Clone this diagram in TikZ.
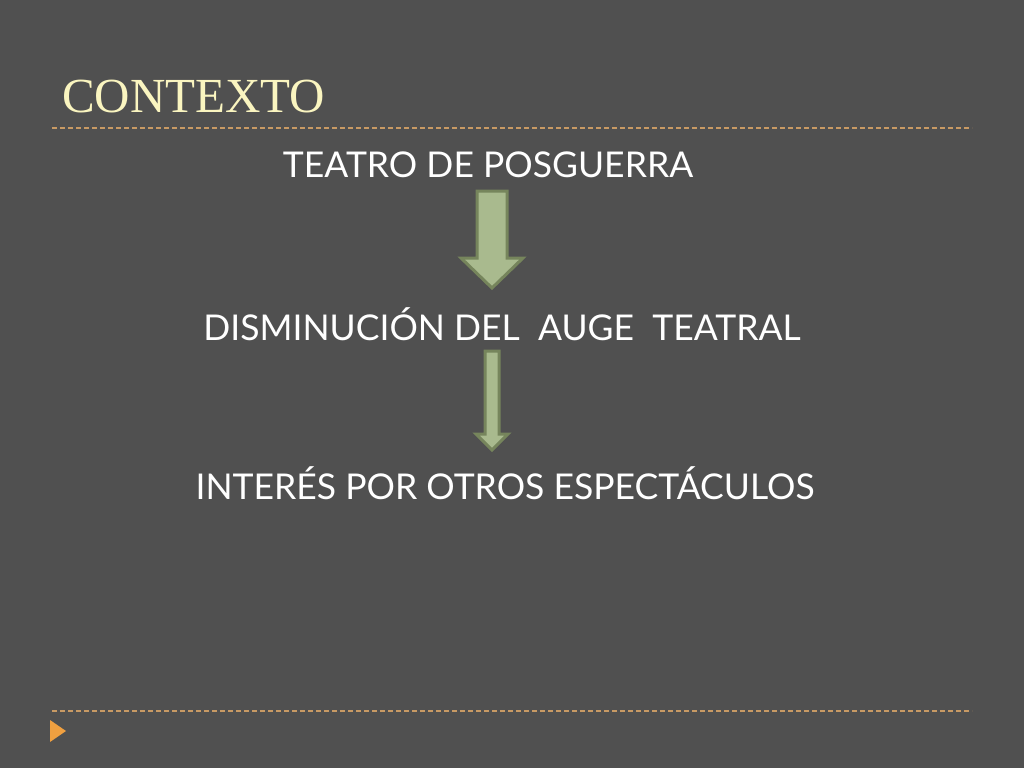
\documentclass[tikz,border=0pt]{standalone}
\usepackage{fontspec}
\newfontfamily\bodyfont{Lato}
\newfontfamily\titlefont{Liberation Serif}
\definecolor{slidebg}{HTML}{505050}
\definecolor{titlecol}{HTML}{FAF5C0}
\definecolor{rulecol}{HTML}{C89A64}
\definecolor{bulletcol}{HTML}{F0A040}
\definecolor{arrowfill}{HTML}{A9BA8E}
\definecolor{arrowline}{HTML}{76855C}
\tikzset{
	caption/.style={text=white, font=\bodyfont\fontsize{35.5}{42}\selectfont, inner sep=0pt},
	slidetitle/.style={text=titlecol, font=\titlefont\fontsize{49}{56}\selectfont, inner sep=0pt, anchor=base west},
	rule/.style={rulecol, line width=1.2pt, dash pattern=on 5pt off 3pt},
	blockarrow/.style={fill=arrowfill, draw=arrowline, line width=3pt, line join=miter}
}
\begin{document}
\begin{tikzpicture}[x=1pt,y=-1pt]
	\fill[slidebg] (0,0) rectangle (1024,768);
	\node[slidetitle] (title) at (62,112) {CONTEXTO};
	\draw[rule] (52,128) -- (972,128);
	\draw[rule] (52,711) -- (972,711);
	\fill[bulletcol] (50,720) -- (66,731) -- (50,742) -- cycle;
	\node[caption] (teatro) at (488,165) {TEATRO DE POSGUERRA};
	\node[caption] (auge) at (502,324) {DISMINUCIÓN DEL\ \ AUGE\ \ TEATRAL};
	\node[caption] (interes) at (505,483) {INTERÉS POR OTROS ESPECTÁCULOS};
	\draw[blockarrow] (477,191) -- (507,191) -- (507,258) -- (523,258) -- (492,288) -- (461,258) -- (477,258) -- cycle;
	\draw[blockarrow] (485,351) -- (499,351) -- (499,434) -- (508,434) -- (492,450) -- (476,434) -- (485,434) -- cycle;
\end{tikzpicture}
\end{document}
